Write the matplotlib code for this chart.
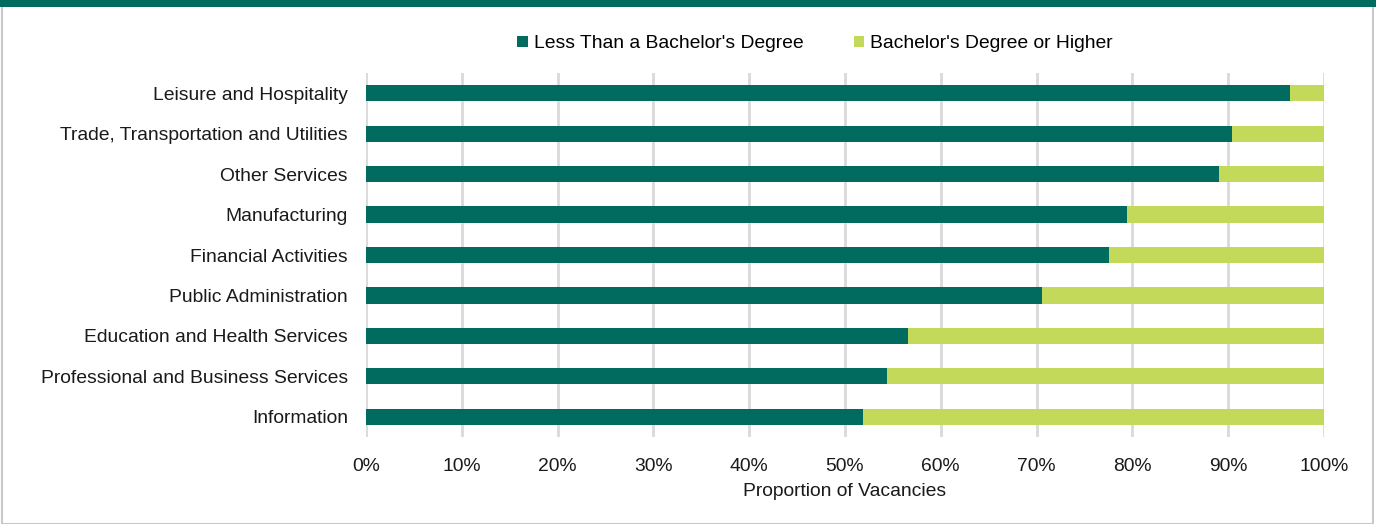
import matplotlib
matplotlib.use("Agg")
import matplotlib.pyplot as plt
from matplotlib.patches import Rectangle
from matplotlib.ticker import FuncFormatter, MultipleLocator

plt.rcParams['font.family'] = ['Liberation Sans', 'DejaVu Sans']

categories = ["Leisure and Hospitality", "Trade, Transportation and Utilities", "Other Services",
              "Manufacturing", "Financial Activities", "Public Administration",
              "Education and Health Services", "Professional and Business Services", "Information"]
less_than_ba = [96.5, 90.4, 89.0, 79.4, 77.6, 70.6, 56.6, 54.4, 51.9]
ba_or_higher = [100 - v for v in less_than_ba]
series_names = ["Less Than a Bachelor's Degree", "Bachelor's Degree or Higher"]
dark = "#006B5E"
light = "#C2D95A"
FS = 13.9

W, H = 1376, 524
fig = plt.figure(figsize=(W / 100, H / 100), dpi=100)
ax = fig.add_axes([366 / W, 1 - 437 / H, (1324 - 366) / W, (437 - 73) / H])

y = list(range(len(categories)))
ax.barh(y, less_than_ba, height=0.4, color=dark, label=series_names[0], zorder=3)
ax.barh(y, ba_or_higher, left=less_than_ba, height=0.4, color=light, label=series_names[1], zorder=3)

ax.set_xlim(0, 100)
ax.set_ylim(len(categories) - 0.5, -0.5)
ax.set_yticks(y)
ax.set_yticklabels(categories, fontsize=FS, color="#1a1a1a")
ax.xaxis.set_major_locator(MultipleLocator(10))
ax.xaxis.set_major_formatter(FuncFormatter(lambda v, p: f"{int(round(v))}%"))
ax.tick_params(axis='x', labelsize=FS, colors="#1a1a1a", length=0, pad=15)
ax.tick_params(axis='y', length=0, pad=13)
ax.grid(axis='x', color="#D9D9D9", linewidth=2, zorder=0)
for s in ax.spines.values():
    s.set_visible(False)
ax.set_xlabel("Proportion of Vacancies", fontsize=FS, color="#1a1a1a", labelpad=6)

fig.legend(loc='center', bbox_to_anchor=(815 / W, 1 - 44 / H), ncol=2, frameon=False,
           fontsize=FS, handlelength=0.55, handleheight=0.55, handletextpad=0.3, columnspacing=2.6)

# frame and top band
fig.patches.append(Rectangle((2 / W, 0.5 / H), (W - 5) / W, (H - 2) / H, transform=fig.transFigure,
                             fill=False, edgecolor="#C8C8C8", linewidth=1.5, zorder=0))
fig.patches.append(Rectangle((0, 1 - 7 / H), 1, 7 / H, transform=fig.transFigure,
                             facecolor=dark, edgecolor='none', zorder=1))

fig.savefig("out.png", dpi=100)
